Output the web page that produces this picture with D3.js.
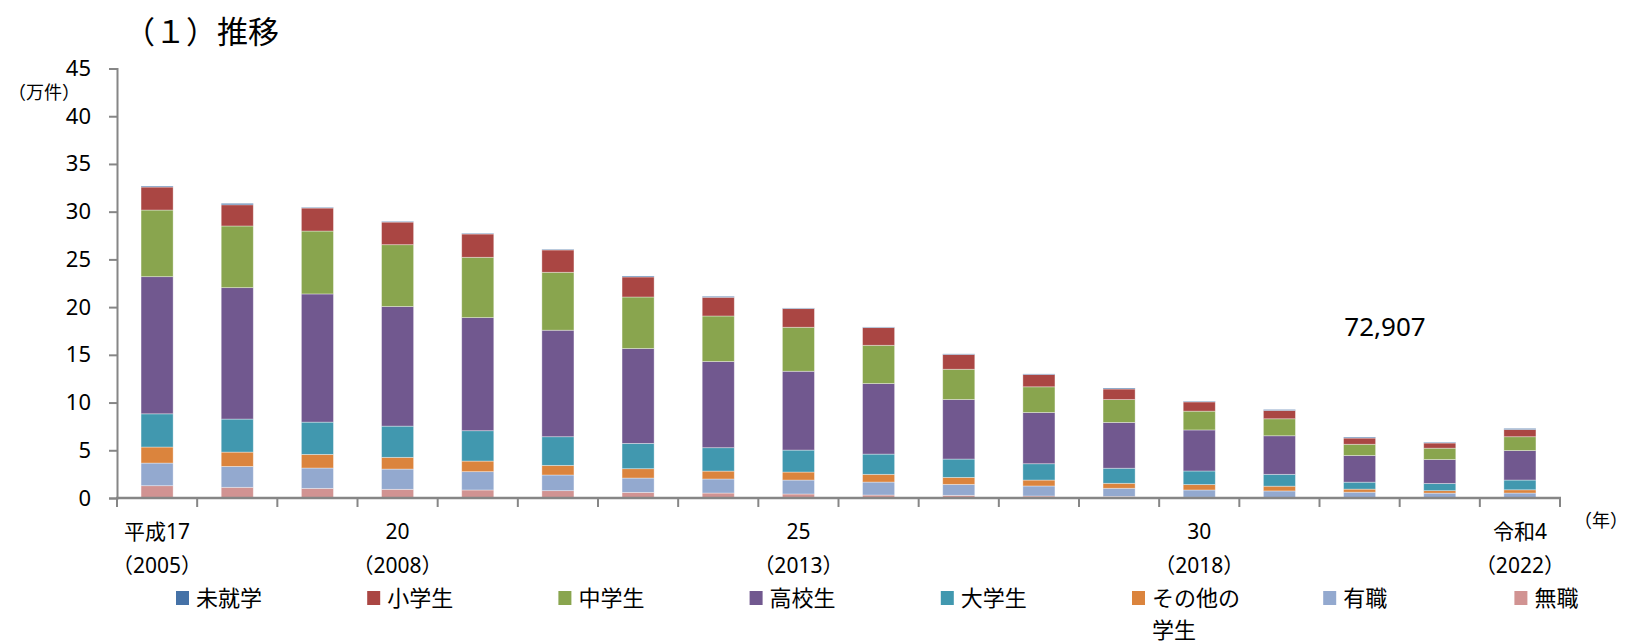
<!DOCTYPE html>
<html>
<head>
<meta charset="utf-8">
<script src="https://cdn.jsdelivr.net/npm/d3@7"></script>
<style>
  html, body { margin: 0; padding: 0; background: #fff; }
  svg { display: block; }
</style>
</head>
<body>
<svg id="chart" width="1630" height="644"></svg>
<script>
// ---- data (万件) ----
const years = [2005,2006,2007,2008,2009,2010,2011,2012,2013,2014,2015,2016,2017,2018,2019,2020,2021,2022];
const xLabelLine1 = ["平成17","","","20","","","","","25","","","","","30","","","","令和4"];
const xLabelLine2 = ["（2005）","","","（2008）","","","","","（2013）","","","","","（2018）","","","","（2022）"];
const seriesNames = ["無職","有職","その他の学生","大学生","高校生","中学生","小学生","未就学"]; // bottom -> top
const mushoku   = [1.29,1.12,1.01,0.91,0.84,0.77,0.59,0.52,0.42,0.31,0.28,0.21,0.17,0.08,0.05,0.03,0.03,0.03];
const yushoku   = [2.37,2.19,2.13,2.12,1.92,1.64,1.50,1.47,1.46,1.36,1.15,1.05,0.85,0.76,0.69,0.58,0.48,0.49];
const sonota    = [1.68,1.50,1.43,1.23,1.11,1.01,0.98,0.83,0.84,0.81,0.73,0.62,0.52,0.57,0.50,0.32,0.26,0.34];
const daigaku   = [3.48,3.46,3.38,3.27,3.18,3.00,2.65,2.45,2.30,2.12,1.92,1.71,1.58,1.42,1.24,0.73,0.75,1.02];
const koukou    = [14.37,13.77,13.43,12.53,11.85,11.16,9.94,9.03,8.26,7.39,6.24,5.37,4.80,4.30,4.04,2.79,2.51,3.09];
const chugaku   = [6.98,6.46,6.59,6.48,6.32,6.07,5.40,4.77,4.61,4.01,3.17,2.69,2.39,1.97,1.78,1.18,1.19,1.45];
const shogaku   = [2.41,2.22,2.41,2.37,2.44,2.34,2.10,1.96,1.95,1.85,1.54,1.28,1.11,0.97,0.87,0.65,0.54,0.75];
const mishugaku = [0.10,0.15,0.07,0.07,0.07,0.07,0.10,0.10,0.07,0.07,0.07,0.07,0.10,0.07,0.10,0.10,0.08,0.12];
const seriesValues = [mushoku, yushoku, sonota, daigaku, koukou, chugaku, shogaku, mishugaku];
const seriesColors = ["#D19392","#93A9CF","#DB843D","#4198AF","#71588F","#89A54E","#AA4643","#4572A7"];
const yTicks = [0,5,10,15,20,25,30,35,40,45];
const legendOrder = ["未就学","小学生","中学生","高校生","大学生","その他の学生","有職","無職"];
const annotation = "72,907";

// ---- build table ----
const table = years.map((y, i) => {
  const row = { year: y };
  seriesNames.forEach((s, k) => { row[s] = seriesValues[k][i]; });
  return row;
});

const svg = d3.select("#chart");
const jp = "'Noto Sans CJK JP', 'Noto Sans', sans-serif";
const num = "'Noto Sans', 'Noto Sans CJK JP', sans-serif";
const axisColor = "#868686";

const x = d3.scaleBand().domain(years).range([117, 1560]).paddingInner(0.6).paddingOuter(0.3);
const xStep = d3.scaleBand().domain(years).range([117, 1560]).padding(0);
const y = d3.scaleLinear().domain([0, 45]).range([498, 68.5]);

// title
svg.append("text").attr("x", 124).attr("y", 43)
  .attr("font-family", jp).attr("font-size", 31).attr("fill", "#000")
  .text("（１）推移");

// y unit label
svg.append("text").attr("x", 8).attr("y", 99)
  .attr("font-family", jp).attr("font-size", 18).attr("fill", "#000")
  .text("（万件）");

// bars
const stack = d3.stack().keys(seriesNames);
const stacked = stack(table);
const colorOf = d3.scaleOrdinal().domain(seriesNames).range(seriesColors);

svg.append("g").selectAll("g").data(stacked).join("g")
  .attr("fill", d => colorOf(d.key))
  .selectAll("rect").data(d => d).join("rect")
  .attr("x", d => x(d.data.year))
  .attr("width", x.bandwidth())
  .attr("y", d => y(d[1]))
  .attr("height", d => Math.max(0, y(d[0]) - y(d[1])))
  .attr("stroke", "rgba(255,255,255,0.45)")
  .attr("stroke-width", 0.8);

// y axis
const yAxis = d3.axisLeft(y).tickValues(yTicks).tickSize(8).tickPadding(18).tickFormat(d3.format("d"));
const gy = svg.append("g").attr("transform", "translate(117,0)").call(yAxis);
gy.select(".domain").attr("stroke", axisColor).attr("stroke-width", 2);
gy.selectAll(".tick line").attr("stroke", axisColor).attr("stroke-width", 2);
gy.selectAll(".tick text").attr("font-family", num).attr("font-size", 22).attr("fill", "#000");

// x axis line and ticks at category boundaries
const boundaries = years.map(yy => xStep(yy)).concat([xStep(years[years.length-1]) + xStep.bandwidth()]);
svg.append("line").attr("x1", 116).attr("x2", 1561).attr("y1", y(0)).attr("y2", y(0))
  .attr("stroke", axisColor).attr("stroke-width", 2.5);
svg.append("g").selectAll("line").data(boundaries).join("line")
  .attr("x1", d => d).attr("x2", d => d)
  .attr("y1", y(0)).attr("y2", y(0) + 9)
  .attr("stroke", axisColor).attr("stroke-width", 2);

// x labels
const xl = svg.append("g");
years.forEach((yy, i) => {
  const cx = xStep(yy) + xStep.bandwidth() / 2;
  if (xLabelLine1[i]) xl.append("text").attr("x", cx).attr("y", 539).attr("text-anchor", "middle")
    .attr("font-family", num).attr("font-size", 21).attr("fill", "#000").text(xLabelLine1[i]);
  if (xLabelLine2[i]) xl.append("text").attr("x", cx).attr("y", 573).attr("text-anchor", "middle")
    .attr("font-family", num).attr("font-size", 21).attr("fill", "#000").text(xLabelLine2[i]);
});

// (年)
svg.append("text").attr("x", 1574).attr("y", 527)
  .attr("font-family", jp).attr("font-size", 18).attr("fill", "#000").text("（年）");

// annotation
svg.append("text").attr("x", 1385).attr("y", 336).attr("text-anchor", "middle")
  .attr("font-family", num).attr("font-size", 26).attr("fill", "#000").text(annotation);

// legend
const lg = svg.append("g");
legendOrder.forEach((name, i) => {
  const lx = 176 + i * 191.2;
  const k = seriesNames.indexOf(name);
  lg.append("rect").attr("x", lx).attr("y", 591).attr("width", 13).attr("height", 14)
    .attr("fill", seriesColors[k]);
  if (name === "その他の学生") {
    lg.append("text").attr("x", lx + 20).attr("y", 606).attr("font-family", jp).attr("font-size", 22)
      .attr("fill", "#000").text("その他の");
    lg.append("text").attr("x", lx + 20).attr("y", 638).attr("font-family", jp).attr("font-size", 22)
      .attr("fill", "#000").text("学生");
  } else {
    lg.append("text").attr("x", lx + 20).attr("y", 606).attr("font-family", jp).attr("font-size", 22)
      .attr("fill", "#000").text(name);
  }
});
</script>
</body>
</html>
